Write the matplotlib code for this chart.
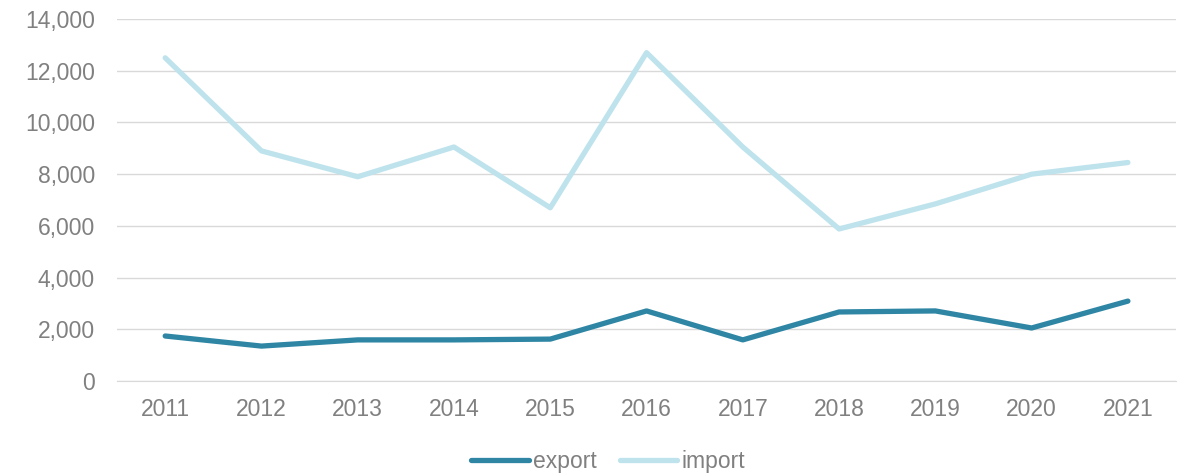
import matplotlib
matplotlib.use("Agg")
import numpy as np
from matplotlib import pyplot as plt
from matplotlib.ticker import FuncFormatter

years = ["2011", "2012", "2013", "2014", "2015", "2016", "2017", "2018", "2019", "2020", "2021"]
export = [1740, 1350, 1590, 1590, 1620, 2710, 1590, 2670, 2710, 2050, 3090]
imports = [12500, 8900, 7900, 9050, 6700, 12700, 9050, 5880, 6850, 8000, 8450]

EXPORT_COLOR = "#2E86A4"
IMPORT_COLOR = "#BEE3EC"
TEXT_COLOR = "#808080"
FS = 16.5

plt.rcParams['font.family'] = ['Liberation Sans', 'DejaVu Sans']

fig = plt.figure(figsize=(11.86, 4.76), dpi=100)
ax = fig.add_axes([0.0987, 0.1996, 0.8929, 0.7604])

x = np.arange(len(years))
ax.plot(x, export, color=EXPORT_COLOR, lw=3.8, label="export", solid_capstyle="round", solid_joinstyle="round")
ax.plot(x, imports, color=IMPORT_COLOR, lw=3.8, label="import", solid_capstyle="round", solid_joinstyle="round")

ax.set_xlim(-0.5, len(years) - 0.5)
ax.set_ylim(0, 14000)
ax.set_yticks(np.arange(0, 14001, 2000))
ax.yaxis.set_major_formatter(FuncFormatter(lambda v, p: "{:,.0f}".format(v)))
ax.set_xticks(x)
ax.set_xticklabels(years)

ax.grid(axis="y", color="#D9D9D9", lw=1)
ax.set_axisbelow(True)
for s in ["top", "right", "left"]:
    ax.spines[s].set_visible(False)
ax.spines["bottom"].set_color("#D9D9D9")
ax.tick_params(axis="both", length=0, labelsize=FS, colors=TEXT_COLOR)
ax.tick_params(axis="y", pad=16)
ax.tick_params(axis="x", pad=12)

leg = fig.legend(loc="lower center", bbox_to_anchor=(0.513, -0.038), ncol=2, frameon=False,
                 fontsize=FS, handlelength=2.5, handletextpad=0.2, columnspacing=1.0)
for t in leg.get_texts():
    t.set_color(TEXT_COLOR)

fig.savefig("out.png", dpi=100)
